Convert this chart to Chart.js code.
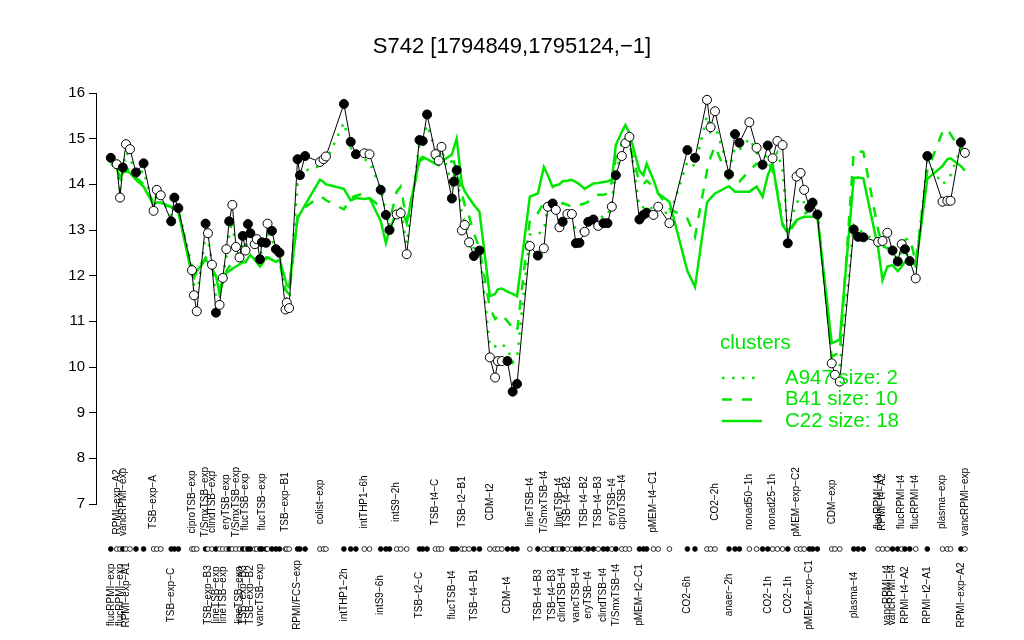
<!DOCTYPE html>
<html>
<head>
<meta charset="utf-8">
<script src="https://cdn.jsdelivr.net/npm/chart.js@4/dist/chart.umd.min.js"></script>
<style>
  html, body { margin: 0; padding: 0; background: #fff; }
  #wrap { width: 1024px; height: 640px; }
</style>
</head>
<body>
<div id="wrap"><canvas id="chart" width="1024" height="640"></canvas></div>
<script>
// position of each sample along the x axis (groups are separated by gaps)
const samplePos = [
  1.0, 2.5, 3.3, 4.0, 4.8, 5.8, 7.3, 9.2, 11.7, 12.5,
  13.5, 16.1, 16.9, 17.9, 21.3, 21.8, 22.5, 24.7, 25.3, 26.3,
  27.3, 28.2, 29.0, 29.9, 30.6, 31.4, 32.3, 33.2, 34.0, 34.7,
  35.3, 35.9, 37.0, 37.5, 38.3, 38.8, 39.8, 40.2, 41.3, 42.3,
  43.2, 44.7, 45.0, 45.6, 47.7, 48.3, 49.6, 53.3, 54.2, 54.8,
  59.3, 61.0, 62.3, 64.4, 65.7, 68.5, 69.8, 70.7, 72.5, 73.5,
  75.0, 78.2, 79.0, 80.1, 82.2, 83.0, 83.7, 86.3, 86.8, 87.5,
  88.8, 89.5, 90.6, 91.8, 93.2, 95.8, 97.1, 97.8, 98.8, 100.2,
  101.5, 102.6, 105.8, 107.8, 109.3, 110.3, 111.5, 112.3, 113.2, 114.0,
  115.2, 116.3, 117.3, 118.2, 119.5, 120.4, 121.7, 122.9, 124.2, 125.2,
  126.3, 127.3, 128.8, 129.7, 130.7, 133.2, 134.2, 135.0, 136.7, 137.9,
  140.7, 145.2, 147.1, 150.1, 151.0, 152.1, 155.6, 157.1, 158.2, 160.7,
  162.5, 164.0, 165.3, 166.5, 167.7, 169.0, 170.3, 172.5, 173.5, 174.4,
  175.7, 176.5, 177.7, 181.3, 182.1, 183.3, 186.8, 187.9, 189.2, 192.9,
  194.0, 195.2, 196.5, 197.8, 198.8, 199.6, 200.8, 202.3, 205.2, 209.0,
  210.2, 211.0, 213.6, 214.6
];

// S742 expression per sample
const expr = [
  14.58, 14.44, 13.71, 14.37, 14.88, 14.77, 14.26, 14.46, 13.42, 13.88,
  13.76, 13.19, 13.71, 13.48, 12.12, 11.57, 11.22, 13.14, 12.93, 12.24,
  11.19, 11.36, 11.95, 12.58, 13.19, 13.55, 12.63, 12.40, 12.87, 12.55,
  13.13, 12.93, 12.69, 12.80, 12.36, 12.73, 12.72, 13.14, 12.98, 12.58,
  12.50, 11.26, 11.41, 11.29, 14.55, 14.20, 14.62, 14.49, 14.55, 14.61,
  15.76, 14.93, 14.66, 14.68, 14.66, 13.88, 13.33, 13.00, 13.34, 13.37,
  12.47, 14.97, 14.95, 15.53, 14.66, 14.52, 14.82, 13.69, 14.06, 14.31,
  12.99, 13.11, 12.73, 12.43, 12.55, 10.21, 9.77, 10.13, 10.13, 10.13,
  9.46, 9.63, 12.65, 12.44, 12.60, 13.51, 13.58, 13.44, 13.06, 13.18,
  13.35, 13.35, 12.71, 12.72, 12.96, 13.18, 13.23, 13.09, 13.15, 13.15,
  13.51, 14.20, 14.62, 14.90, 15.04, 13.23, 13.33, 13.38, 13.33, 13.51,
  13.15, 14.75, 14.58, 15.85, 15.25, 15.60, 14.22, 15.10, 14.91, 15.36,
  14.80, 14.43, 14.85, 14.57, 14.95, 14.86, 12.71, 14.17, 14.25, 13.88,
  13.49, 13.60, 13.34, 10.08, 9.83, 9.68, 13.01, 12.85, 12.84, 12.74,
  12.76, 12.94, 12.55, 12.31, 12.69, 12.58, 12.32, 11.94, 14.62, 13.62,
  13.64, 13.64, 14.92, 14.69
];

// 1 = filled marker, 0 = open marker
const filled = [
  1, 0, 0, 1, 0, 0, 1, 1, 0, 0,
  0, 1, 1, 1, 0, 0, 0, 1, 0, 0,
  1, 0, 0, 0, 1, 0, 0, 0, 1, 0,
  1, 1, 0, 0, 1, 1, 1, 0, 1, 1,
  1, 0, 0, 0, 1, 1, 1, 0, 0, 0,
  1, 1, 1, 0, 0, 1, 1, 1, 0, 0,
  0, 1, 1, 1, 0, 0, 0, 1, 1, 1,
  0, 0, 0, 1, 1, 0, 0, 0, 0, 1,
  1, 1, 0, 1, 0, 0, 1, 0, 0, 1,
  0, 0, 1, 1, 0, 1, 1, 0, 1, 1,
  0, 1, 0, 0, 0, 1, 1, 1, 0, 0,
  0, 1, 1, 0, 0, 0, 1, 1, 1, 0,
  0, 1, 1, 0, 0, 0, 1, 0, 0, 0,
  1, 1, 1, 0, 0, 0, 1, 1, 1, 0,
  0, 0, 1, 1, 0, 1, 1, 0, 1, 0,
  0, 0, 1, 0
];

// cluster profiles
const clusterA947 = [
  14.55, 14.4, 13.9, 14.35, 14.7, 14.6, 14.2, 14.3, 13.5, 13.8,
  13.7, 13.3, 13.6, 13.45, 12.2, 11.8, 11.5, 12.9, 12.8, 12.3,
  11.5, 11.5, 12.0, 12.4, 12.9, 13.2, 12.5, 12.35, 12.7, 12.5,
  12.9, 12.8, 12.6, 12.65, 12.35, 12.6, 12.65, 12.9, 12.8, 12.5,
  12.45, 11.5, 11.5, 11.45, 14.0, 14.0, 14.3, 14.4, 14.45, 14.5,
  15.35, 14.8, 14.6, 14.55, 14.5, 13.9, 13.4, 13.1, 13.35, 13.4,
  12.7, 14.9, 14.95, 15.3, 14.75, 14.6, 14.75, 14.0, 14.2, 14.35,
  13.3, 13.2, 12.9, 12.6, 12.6, 10.45, 10.45, 10.5, 10.5, 10.4,
  10.1, 10.2, 12.9, 12.9, 13.0, 13.5, 13.55, 13.45, 13.2, 13.25,
  13.35, 13.35, 12.95, 12.95, 13.1, 13.25, 13.3, 13.25, 13.3, 13.3,
  13.6, 14.3, 14.7, 14.9, 15.0, 13.5, 13.5, 13.55, 13.45, 13.55,
  13.3, 14.5, 14.4, 15.5, 15.1, 15.3, 14.3, 14.8, 14.75, 15.0,
  14.7, 14.45, 14.7, 14.55, 14.7, 14.3, 13.0, 13.6, 13.7, 13.6,
  13.45, 13.5, 13.35, 10.2, 10.1, 10.0, 13.1, 13.0, 12.95, 12.7,
  12.6, 12.7, 12.5, 12.35, 12.55, 12.5, 12.4, 12.2, 14.5, 14.0,
  14.1, 14.2, 14.8, 14.6
];
const clusterB41 = [
  14.5, 14.4, 14.2, 14.3, 14.35, 14.3, 14.15, 14.0, 13.6, 13.65,
  13.6, 13.5, 13.5, 13.4, 12.1, 12.0, 12.05, 12.4, 12.35, 12.2,
  11.9, 11.7, 11.9, 12.1, 12.2, 12.25, 12.2, 12.25, 12.3, 12.3,
  12.4, 12.45, 12.35, 12.3, 12.2, 12.25, 12.35, 12.4, 12.35, 12.3,
  12.3, 11.7, 11.65, 11.6, 13.3, 13.35, 13.5, 13.73, 13.7, 13.65,
  13.45, 13.7, 13.75, 13.8, 13.7, 13.5, 13.3, 13.18, 13.84, 13.95,
  13.2, 14.5, 14.55, 14.64, 14.55, 14.47, 14.47, 14.5, 14.5, 14.3,
  13.8, 13.55, 13.3, 12.93, 12.6, 11.3, 11.05, 11.1, 11.15, 11.0,
  10.85, 10.78, 13.22, 13.37, 13.6, 13.66, 13.45, 13.44, 13.5, 13.59,
  13.55, 13.51, 13.52, 13.55, 13.58, 13.62, 13.72, 13.77, 13.77, 13.8,
  14.05, 14.6, 14.9, 15.0, 14.88, 14.05, 14.0, 14.08, 13.95, 13.8,
  13.47, 13.25, 12.85, 14.3, 14.6, 14.83, 14.1, 14.08, 14.06, 14.3,
  14.45, 14.46, 14.5, 14.3, 13.85, 13.15, 12.9, 13.2, 13.26, 13.35,
  13.42, 13.5, 13.4, 10.22, 10.27, 10.3, 14.71, 14.72, 14.71, 13.0,
  12.65, 12.6, 12.56, 12.65, 12.72, 12.78, 12.83, 12.3, 14.3, 15.15,
  15.22, 15.1, 14.72, 14.64
];
const clusterC22 = [
  14.45, 14.35, 14.15, 14.25, 14.3, 14.25, 14.1, 13.95, 13.55, 13.6,
  13.6, 13.5, 13.45, 13.4, 12.0, 11.95, 12.1, 12.35, 12.3, 12.15,
  12.0, 11.6, 11.85, 12.05, 12.1, 12.15, 12.2, 12.25, 12.3, 12.3,
  12.38, 12.45, 12.35, 12.3, 12.2, 12.25, 12.4, 12.4, 12.35, 12.3,
  12.35, 11.9, 11.8, 11.75, 13.25, 13.35, 13.55, 14.1, 14.05, 14.0,
  13.9, 13.65, 13.7, 13.68, 13.7, 13.2, 12.71, 13.0, 13.4, 13.48,
  13.15, 14.55, 14.6, 14.55, 14.45, 14.42, 14.5, 14.65, 14.8, 15.0,
  14.0, 13.85, 13.7, 13.55, 13.4, 11.55, 11.6, 11.7, 11.72, 11.65,
  11.6, 11.55, 13.73, 13.8, 14.38, 14.2, 13.94, 13.98, 14.0, 14.07,
  14.08, 14.1, 14.05, 14.0, 13.9, 13.95, 14.02, 14.03, 14.05, 14.06,
  14.11, 14.86, 15.15, 15.3, 15.12, 14.3, 14.2, 14.45, 14.1, 13.8,
  13.62, 12.1, 11.75, 13.6, 13.7, 13.8, 13.96, 13.84, 13.84, 13.84,
  13.95, 13.73, 14.2, 14.45, 13.8, 13.1, 12.96, 13.22, 13.26, 13.29,
  13.29, 13.29, 13.29, 10.52, 10.55, 10.6, 14.14, 14.15, 14.13, 12.6,
  11.9, 12.2, 12.23, 12.1, 12.2, 12.3, 12.38, 12.2, 14.12, 14.4,
  14.55, 14.57, 14.4, 14.3
];

// sample labels (1-based sample index), upper and lower row
const topLabelIdx = [2, 4, 9, 15, 18, 20, 24, 27, 30, 36, 42, 48, 54, 59, 65, 71, 76,
  83, 85, 89, 91, 95, 98, 101, 103, 109, 116, 120, 124, 128, 134, 140, 141, 145, 148, 150, 154];
const topLabelNames = ["RPMI\u2212exp\u2212A2", "vancRPMI\u2212exp", "TSB\u2212exp\u2212A", "ciproTSB\u2212exp",
  "T/SmxTSB\u2212exp", "clindTSB\u2212exp", "eryTSB\u2212exp", "T/SmxTSB\u2212exp", "flucTSB\u2212exp",
  "flucTSB\u2212exp", "TSB\u2212exp\u2212B1", "colist\u2212exp", "intTHP1\u22126h", "intS9\u22122h",
  "TSB\u2212t4\u2212C", "TSB\u2212t2\u2212B1", "CDM\u2212t2", "lineTSB\u2212t4", "T/SmxTSB\u2212t4",
  "lineTSB\u2212t4", "TSB\u2212t4\u2212B2", "TSB\u2212t4\u2212B2", "TSB\u2212t4\u2212B3", "eryTSB\u2212t4",
  "ciproTSB\u2212t4", "pMEM\u2212t4\u2212C1", "CO2\u22122h", "nonad50\u22121h", "nonad25\u22121h",
  "pMEM\u2212exp\u2212C2", "CDM\u2212exp", "flucRPMI\u2212t4", "RPMI\u2212t4\u2212A2", "flucRPMI\u2212t4",
  "flucRPMI\u2212t4", "plasma\u2212exp", "vancRPMI\u2212exp"];
const bottomLabelIdx = [1, 3, 5, 12, 19, 21, 23, 28, 29, 32, 35, 45, 51, 56, 62, 68, 74, 80,
  84, 87, 90, 93, 96, 99, 102, 106, 112, 117, 123, 127, 131, 137, 142, 143, 146, 149, 153];
const bottomLabelNames = ["flucRPMI\u2212exp", "flucRPMI\u2212exp", "RPMI\u2212exp\u2212A1", "TSB\u2212exp\u2212C",
  "TSB\u2212exp\u2212B3", "lineTSB\u2212exp", "lineTSB\u2212exp", "lineTSB\u2212exp", "TSB\u2212exp\u2212B3",
  "TSB\u2212exp\u2212B2", "vancTSB\u2212exp", "RPMI/FCS\u2212exp", "intTHP1\u22122h", "intS9\u22126h",
  "TSB\u2212t2\u2212C", "flucTSB\u2212t4", "TSB\u2212t4\u2212B1", "CDM\u2212t4", "TSB\u2212t4\u2212B3",
  "TSB\u2212t4\u2212B3", "clindTSB\u2212t4", "vancTSB\u2212t4", "eryTSB\u2212t4", "clindTSB\u2212t4",
  "T/SmxTSB\u2212t4", "pMEM\u2212t2\u2212C1", "CO2\u22126h", "anaer\u22122h", "CO2\u22121h", "CO2\u22121h",
  "pMEM\u2212exp\u2212C1", "plasma\u2212t4", "vancRPMI\u2212t4", "vancRPMI\u2212t4", "RPMI\u2212t4\u2212A2",
  "RPMI\u2212t2\u2212A1", "RPMI\u2212exp\u2212A2"];

const clusterNames = ["A947 size: 2", "B41 size: 10", "C22 size: 18"];
const yTicks = [7, 8, 9, 10, 11, 12, 13, 14, 15, 16];

const GREEN = "#00e600";
const FONT = '"Liberation Sans", Arial, Helvetica, sans-serif';
const clusterDash = [[2.5, 7.5], [10, 10], []];

function toPoints(values) {
  return values.map((v, i) => ({ x: samplePos[i], y: v }));
}

// dots row, sample names and the clusters legend
const extrasPlugin = {
  id: "extras",
  afterDraw(chart) {
    const ctx = chart.ctx;
    const xs = chart.scales.x;
    const area = chart.chartArea;

    // row of markers below the plot
    const dotY = area.bottom + 45;
    ctx.save();
    ctx.lineWidth = 0.8;
    ctx.strokeStyle = "#000";
    samplePos.forEach((p, i) => {
      ctx.beginPath();
      ctx.arc(xs.getPixelForValue(p), dotY, 2.4, 0, Math.PI * 2);
      ctx.fillStyle = filled[i] ? "#000" : "#fff";
      ctx.fill();
      ctx.stroke();
    });

    // rotated sample names
    ctx.fillStyle = "#000";
    ctx.font = "10px " + FONT;
    ctx.textAlign = "center";
    ctx.textBaseline = "middle";
    const drawNames = (idx, names, yc) => {
      idx.forEach((k, j) => {
        ctx.save();
        ctx.translate(xs.getPixelForValue(samplePos[k - 1]), yc);
        ctx.rotate(-Math.PI / 2);
        ctx.fillText(names[j], 0, 0);
        ctx.restore();
      });
    };
    drawNames(topLabelIdx, topLabelNames, area.bottom - 2);
    drawNames(bottomLabelIdx, bottomLabelNames, area.bottom + 91);

    // legend
    ctx.fillStyle = GREEN;
    ctx.strokeStyle = GREEN;
    ctx.font = "20.5px " + FONT;
    ctx.textAlign = "left";
    ctx.fillText("clusters", 720, 343);
    ctx.lineWidth = 2.5;
    ctx.lineCap = "butt";
    clusterNames.forEach((name, i) => {
      const y = 378 + i * 21.5;
      ctx.setLineDash(clusterDash[i]);
      ctx.beginPath();
      ctx.moveTo(722, y);
      ctx.lineTo(762, y);
      ctx.stroke();
      ctx.setLineDash([]);
      ctx.fillText(name, 785, y);
    });
    ctx.restore();
  }
};

const clusterSets = [clusterA947, clusterB41, clusterC22].map((vals, i) => ({
  label: clusterNames[i],
  data: toPoints(vals),
  borderColor: GREEN,
  borderWidth: 2.5,
  borderDash: clusterDash[i],
  borderCapStyle: "butt",
  pointRadius: 0,
  tension: 0
}));

new Chart(document.getElementById("chart"), {
  type: "line",
  data: {
    datasets: [
      {
        label: "S742",
        data: toPoints(expr),
        borderColor: "#000",
        borderWidth: 1,
        pointRadius: 4.5,
        pointBorderWidth: 1,
        pointBorderColor: "#000",
        pointBackgroundColor: filled.map(f => (f ? "#000" : "#fff")),
        tension: 0
      },
      ...clusterSets
    ]
  },
  options: {
    responsive: false,
    animation: false,
    devicePixelRatio: 1,
    events: [],
    layout: { padding: { left: 0, right: 0, top: 0, bottom: 136 } },
    plugins: {
      legend: { display: false },
      tooltip: { enabled: false },
      title: {
        display: true,
        text: "S742 [1794849,1795124,\u22121]",
        color: "#000",
        font: { family: FONT, size: 22, weight: "normal" },
        padding: { top: 34, bottom: 32.6 }
      }
    },
    scales: {
      x: {
        type: "linear",
        min: -2.7,
        max: 228.0,
        display: false
      },
      y: {
        min: 7,
        max: 16,
        afterFit(scale) { scale.width = 96; },
        afterBuildTicks(scale) { scale.ticks = yTicks.map(v => ({ value: v })); },
        ticks: {
          color: "#000",
          padding: 4,
          font: { family: FONT, size: 15 }
        },
        grid: {
          drawOnChartArea: false,
          drawTicks: true,
          tickLength: 7,
          color: "#000"
        },
        border: { display: true, color: "#000", width: 1 }
      }
    }
  },
  plugins: [extrasPlugin]
});
</script>
</body>
</html>
